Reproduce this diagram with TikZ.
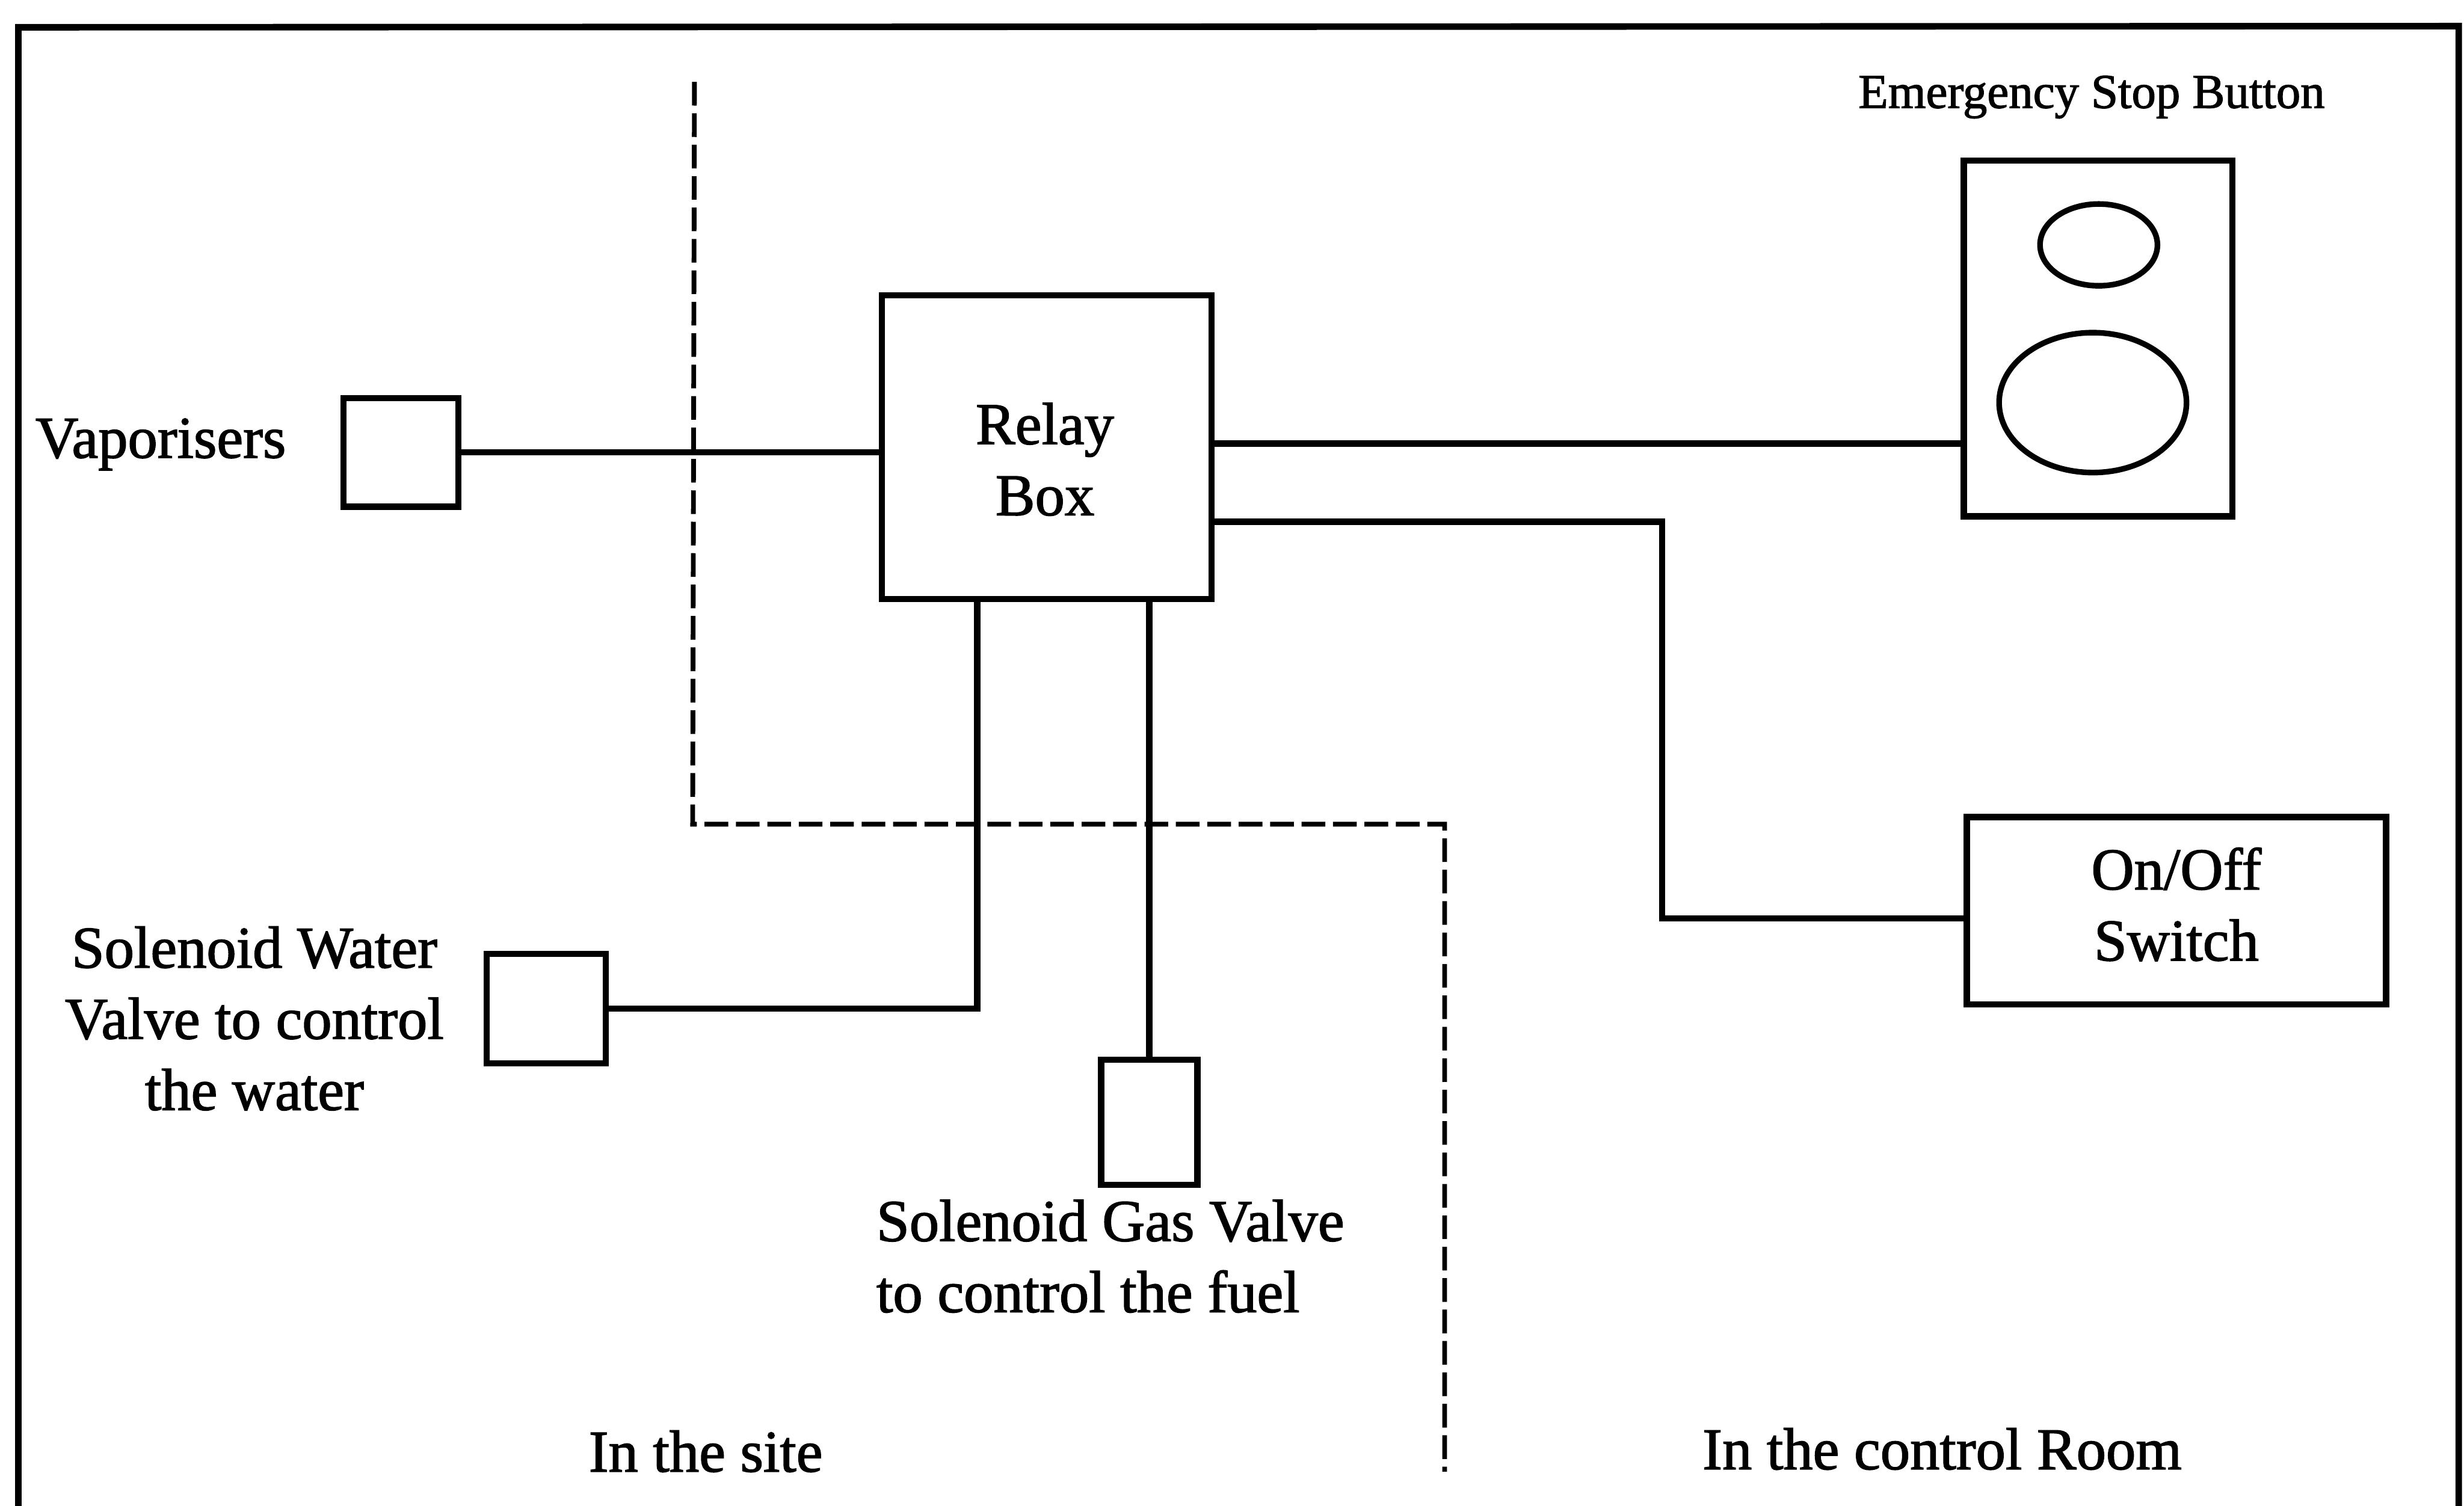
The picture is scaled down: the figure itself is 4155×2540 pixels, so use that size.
\documentclass[tikz,border=0pt]{standalone}
\usepackage{fontspec}
\setmainfont{Liberation Serif}[FakeBold=1.6]
\usetikzlibrary{shapes.geometric}
\begin{document}
\begin{tikzpicture}[x=0.1pt,y=-0.1pt,
  wire/.style={line width=1.05pt},
  box/.style={draw,line width=1.05pt,rectangle,inner sep=0pt},
  knob/.style={draw,ellipse,line width=0.95pt,inner sep=0pt},
  txt/.style={font=\fontsize{10}{12}\selectfont,inner sep=0pt},
  region/.style={line width=0.8pt,dash pattern=on 4pt off 1.3pt}]
\useasboundingbox (0,0) rectangle (4155,2540);
\fill[white] (0,0) rectangle (4155,2540);
% frame
\draw[line width=1.1pt] (31,2540) -- (31,46) -- (4146,44) -- (4146,2540);
% region boundary
\draw[region] (1171,138) -- (1168,1390) -- (2436,1390) -- (2436,2482);
% nodes
\node[box,minimum width=19.4pt,minimum height=18.3pt] (vap) at (676,763) {};
\node[txt,anchor=base west] (vaptxt) at (58,772) {Vaporisers};
\node[box,minimum width=55.6pt,minimum height=51.2pt] (relay) at (1765,754) {};
\node[txt,align=center] (relaytxt) at (1762,785) {\strut Relay\\Box\strut};
\node[box,minimum width=45.3pt,minimum height=60pt] (estop) at (3538,571) {};
\node[knob,minimum width=19.8pt,minimum height=13.8pt] (btn1) at (3539,413) {};
\node[knob,minimum width=31.6pt,minimum height=23.6pt] (btn2) at (3529,679) {};
\node[txt,font=\fontsize{8.2}{10}\selectfont,anchor=base] (estoptxt) at (3527,182) {Emergency Stop Button};
\node[box,txt,align=center,minimum width=70.7pt,minimum height=31.6pt] (onoff) at (3670,1536) {\strut On/Off\\Switch\strut};
\node[box,minimum width=20.1pt,minimum height=18.5pt] (water) at (921,1701) {};
\node[txt,align=center] (watertxt) at (429,1728) {\strut Solenoid Water\\Valve to control\\the water\strut};
\node[box,minimum width=16.2pt,minimum height=21.1pt] (gas) at (1938,1893) {};
\node[txt,align=left,anchor=west] (gastxt) at (1476,2129) {\strut Solenoid Gas Valve\\to control the fuel\strut};
\node[txt,anchor=base] (site) at (1190,2482) {In the site};
\node[txt,anchor=base] (room) at (3275,2478) {In the control Room};
% connectors
\draw[wire] (vap.east) -- (vap.east -| relay.west);
\draw[wire] (relay.east |- 0,748) -- (estop.west |- 0,748);
\draw[wire] (relay.east |- 0,880) -| (2803,1549) -- (onoff.west |- 0,1549);
\draw[wire] (water.east) -| (relay.south -| 1648,0);
\draw[wire] (relay.south -| gas.north) -- (gas.north);
\end{tikzpicture}
\end{document}
